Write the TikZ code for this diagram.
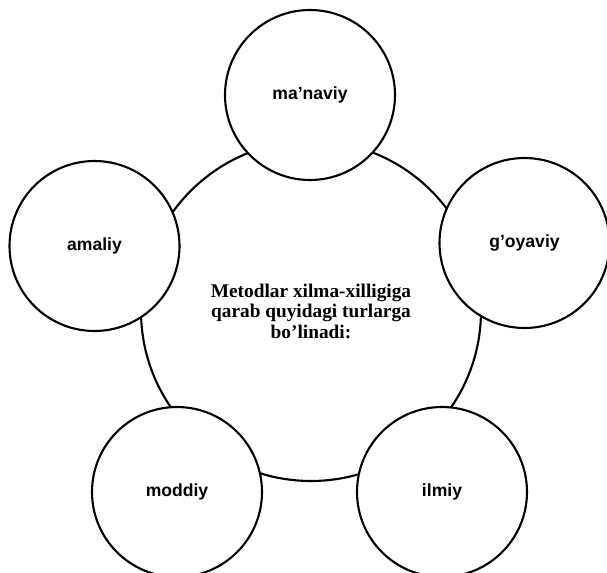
\documentclass[tikz,border=0pt]{standalone}
\usepackage{fontspec}
\setmainfont{Liberation Serif}
\setsansfont{Liberation Sans}
\usepackage{tikz}
\usetikzlibrary{shapes}
\tikzstyle{hubcircle} = [circle, draw, line width=1.8pt, align=center, minimum size=10.2cm, font=\bfseries\fontsize{16.5}{17.5}\selectfont]
\tikzstyle{typecircle} = [circle, draw, line width=1.8pt, fill=white, minimum size=5.1cm, font=\sffamily\bfseries\fontsize{15}{18}\selectfont]

\begin{document}
\begin{tikzpicture}
    \useasboundingbox (0, 0) rectangle (18.21, 17.16);

    % central circle
    \node[hubcircle] at (9.33, 7.83) (hub) {Metodlar xilma-xilligiga\\qarab quyidagi turlarga\\bo'linadi:};

    % types around it
    \node[typecircle] at (9.30, 14.31) (manaviy) {ma'naviy};
    \node[typecircle] at (2.835, 9.78) (amaliy) {amaliy};
    \node[typecircle] at (15.735, 9.87) (goyaviy) {g'oyaviy};
    \node[typecircle] at (5.31, 2.40) (moddiy) {moddiy};
    \node[typecircle] at (13.26, 2.40) (ilmiy) {ilmiy};

\end{tikzpicture}
\end{document}
